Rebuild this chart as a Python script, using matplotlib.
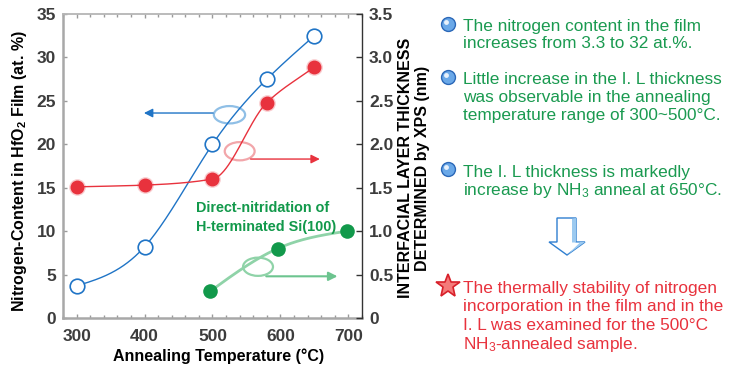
import numpy as np
import matplotlib.pyplot as plt
from matplotlib.patches import Ellipse, Polygon

plt.rcParams['font.family'] = ['Liberation Sans', 'DejaVu Sans']
plt.rcParams['mathtext.fontset'] = 'custom'
plt.rcParams['mathtext.rm'] = 'Liberation Sans'
plt.rcParams['mathtext.bf'] = 'Liberation Sans:bold'
plt.rcParams['mathtext.it'] = 'Liberation Sans:italic'

# NH3 anneal: N content in HfO2 (left) and IL thickness (right)
temp_nh3 = [300, 400, 500, 580, 650]
n_content = [3.7, 8.2, 20.0, 27.5, 32.5]
il_nh3 = [1.51, 1.53, 1.60, 2.48, 2.89]
# direct nitridation of H-terminated Si(100)
temp_direct = [497, 596, 698]
il_direct = [0.31, 0.80, 1.00]

x_ticks = [300, 400, 500, 600, 700]
left_ticks = [0, 5, 10, 15, 20, 25, 30, 35]
right_ticks = [0, 0.5, 1.0, 1.5, 2.0, 2.5, 3.0, 3.5]
right_labels = ['0', '0.5', '1.0', '1.5', '2.0', '2.5', '3.0', '3.5']

BLUE = '#1f74c6'
RED = '#e8323d'
GREEN = '#12994b'
GREEN_LT = '#8fd3a8'
TXT_GREEN = '#1a9a50'


def pchip(x, y, num=300):
    # monotone cubic through the measured points
    x = np.asarray(x, float)
    y = np.asarray(y, float)
    h = np.diff(x)
    d = np.diff(y) / h
    m = np.zeros_like(y)
    for k in range(1, len(x) - 1):
        if d[k - 1] * d[k] > 0:
            w1 = 2 * h[k] + h[k - 1]
            w2 = h[k] + 2 * h[k - 1]
            m[k] = (w1 + w2) / (w1 / d[k - 1] + w2 / d[k])
    m[0] = d[0]
    m[-1] = d[-1]
    xs = np.linspace(x[0], x[-1], num)
    i = np.clip(np.searchsorted(x, xs) - 1, 0, len(h) - 1)
    t = (xs - x[i]) / h[i]
    ys = ((2 * t**3 - 3 * t**2 + 1) * y[i] + (t**3 - 2 * t**2 + t) * h[i] * m[i]
          + (-2 * t**3 + 3 * t**2) * y[i + 1] + (t**3 - t**2) * h[i] * m[i + 1])
    return xs, ys


def natural_spline(x, y, num=300):
    x = np.asarray(x, float)
    y = np.asarray(y, float)
    n = len(x)
    h = np.diff(x)
    A = np.zeros((n, n))
    r = np.zeros(n)
    A[0, 0] = A[-1, -1] = 1
    for i in range(1, n - 1):
        A[i, i - 1] = h[i - 1]
        A[i, i] = 2 * (h[i - 1] + h[i])
        A[i, i + 1] = h[i]
        r[i] = 3 * ((y[i + 1] - y[i]) / h[i] - (y[i] - y[i - 1]) / h[i - 1])
    c = np.linalg.solve(A, r)
    b = np.diff(y) / h - h * (2 * c[:-1] + c[1:]) / 3
    d = np.diff(c) / (3 * h)
    xs = np.linspace(x[0], x[-1], num)
    i = np.clip(np.searchsorted(x, xs) - 1, 0, n - 2)
    t = xs - x[i]
    return xs, y[i] + b[i] * t + c[i] * t**2 + d[i] * t**3


W, H = 742, 367
fig = plt.figure(figsize=(W / 100, H / 100), dpi=100)
ax = fig.add_axes([63 / W, 1 - 318 / H, 299 / W, 304 / H])
ax2 = ax.twinx()

# blue: nitrogen content
cx, cy = natural_spline(temp_nh3, n_content)
ax.plot(cx, cy, color=BLUE, lw=1.0, zorder=3)
ax.plot(temp_nh3, n_content, 'o', ms=10.5, mfc='white', mec=BLUE, mew=1.2, zorder=4)

# red: IL thickness after NH3 anneal
rx, ry = pchip(temp_nh3, il_nh3)
ax2.plot(rx, ry, color=RED, lw=1.0, zorder=3)
ax2.plot(temp_nh3, il_nh3, 'o', ms=12, color=RED, alpha=0.25, mew=0, zorder=4)
ax2.plot(temp_nh3, il_nh3, 'o', ms=10, color=RED, mew=0, zorder=5)

# green: direct nitridation
gx, gy = natural_spline(temp_direct, il_direct)
ax2.plot(gx, gy, color=GREEN_LT, lw=2.0, zorder=3)
ax2.plot(temp_direct, il_direct, 'o', ms=10.5, color=GREEN, mew=0, zorder=5)

ax.set_xlim(280, 720)
ax.set_ylim(0, 35)
ax2.set_ylim(0, 3.5)
ax.set_xticks(x_ticks)
ax.set_xticks(np.arange(280, 721, 20), minor=True)
ax.set_yticks(left_ticks)
ax2.set_yticks(right_ticks)
ax2.set_yticklabels(right_labels)

for lab in ax.get_xticklabels() + ax.get_yticklabels() + ax2.get_yticklabels():
    lab.set_fontsize(12.5)
    lab.set_fontweight('bold')
    lab.set_color('#3c3c3c')

ax.tick_params(axis='x', which='both', direction='in', top=True, color='#9a9a9a', pad=8)
ax.tick_params(axis='x', which='major', length=3, width=1)
ax.tick_params(axis='x', which='minor', length=2, width=1)
ax.tick_params(axis='y', direction='in', length=3, width=1, color='#9a9a9a', pad=5)
ax2.tick_params(axis='y', direction='in', length=4, width=1, color='#333333', pad=5)

for s in ['left', 'bottom']:
    ax.spines[s].set_color('#a8a8a8')
    ax.spines[s].set_linewidth(1.8)
    ax2.spines[s].set_visible(False)
ax.spines['top'].set_color('#b5b5b5')
ax.spines['top'].set_linewidth(1.3)
ax2.spines['top'].set_visible(False)
ax.spines['right'].set_visible(False)
ax2.spines['right'].set_color('#333333')
ax2.spines['right'].set_linewidth(1.0)

# loops and arrows pointing to each axis
ax.add_patch(Ellipse((525, 23.4), 46, 2.0, fill=False, ec='#8fbfe6', lw=1.6, zorder=2))
ax.annotate('', xy=(395, 23.6), xytext=(505, 23.6),
            arrowprops=dict(arrowstyle='-|>', color=BLUE, lw=1.0, mutation_scale=13))
ax.add_patch(Ellipse((540, 19.2), 44, 2.1, fill=False, ec='#f2a6aa', lw=1.6, zorder=2))
ax.annotate('', xy=(662, 18.3), xytext=(552, 18.3),
            arrowprops=dict(arrowstyle='-|>', color=RED, lw=1.0, mutation_scale=13))
ax.add_patch(Ellipse((567, 5.9), 44, 2.1, fill=False, ec=GREEN_LT, lw=1.6, zorder=2))
ax.annotate('', xy=(688, 4.8), xytext=(575, 4.8),
            arrowprops=dict(arrowstyle='-|>', color='#6cc48f', lw=1.5, mutation_scale=13))

# overlay in pixel coordinates for labels and the notes column
ov = fig.add_axes([0, 0, 1, 1])
ov.set_xlim(0, W)
ov.set_ylim(H, 0)
ov.axis('off')
ov.patch.set_alpha(0)

ov.text(219, 356, 'Annealing Temperature (°C)', fontsize=11.5, fontweight='bold',
        ha='center', va='center')
ov.text(20, 171, r'Nitrogen-Content in HfO$_\mathbf{2}$ Film (at. %)', fontsize=11.5,
        fontweight='bold', rotation=90, ha='center', va='center')
ov.text(405, 168, 'INTERFACIAL LAYER THICKNESS', fontsize=11.5, fontweight='bold',
        rotation=90, ha='center', va='center')
ov.text(422, 168, 'DETERMINED by XPS (nm)', fontsize=11.5, fontweight='bold',
        rotation=90, ha='center', va='center')

ov.text(196, 212, 'Direct-nitridation of', fontsize=10.4, fontweight='bold', color=GREEN,
        va='baseline')
ov.text(196, 231, 'H-terminated Si(100)', fontsize=10.4, fontweight='bold', color=GREEN,
        va='baseline')

notes = [
    (24, TXT_GREEN, [(30.7, 'The nitrogen content in the film'),
                     (48.5, 'increases from 3.3 to 32 at.%.')]),
    (77, TXT_GREEN, [(84, 'Little increase in the I. L thickness'),
                     (102, 'was observable in the annealing'),
                     (120, 'temperature range of 300~500°C.')]),
    (169, TXT_GREEN, [(176.5, 'The I. L thickness is markedly'),
                      (195, r'increase by NH$_3$ anneal at 650°C.')]),
    (None, RED, [(292.7, 'The thermally stability of nitrogen'),
                 (311.5, 'incorporation in the film and in the'),
                 (330.3, 'I. L was examined for the 500°C'),
                 (348.5, r'NH$_3$-annealed sample.')]),
]
for by, col, lines in notes:
    if by is not None:
        ov.plot(448, by, 'o', ms=10, mfc='#6aa8e8', mec='#2b68b8', mew=1.0)
        ov.plot(446.3, by - 1.8, 'o', ms=3.5, color='white', alpha=0.85, mew=0)
    for y, s in lines:
        ov.text(463, y, s, fontsize=12.4, color=col, va='baseline')

ov.plot(448, 286, '*', ms=18, mfc='#f47a7a', mec='#d8202a', mew=1.2)

# hollow down arrow
arrow = [(557, 218), (576, 218), (576, 242), (585, 242), (567, 255), (549, 242), (557, 242)]
ov.add_patch(Polygon(arrow, closed=True, fc='white', ec='#2f7fd0', lw=1.0))
ov.add_patch(Polygon([(572, 219), (576, 218), (576, 242), (585, 242), (567, 255),
                      (580, 242.5), (572, 242.5)], closed=True, fc='#9ccaf0', ec='none'))

fig.savefig('out.png', dpi=100)
